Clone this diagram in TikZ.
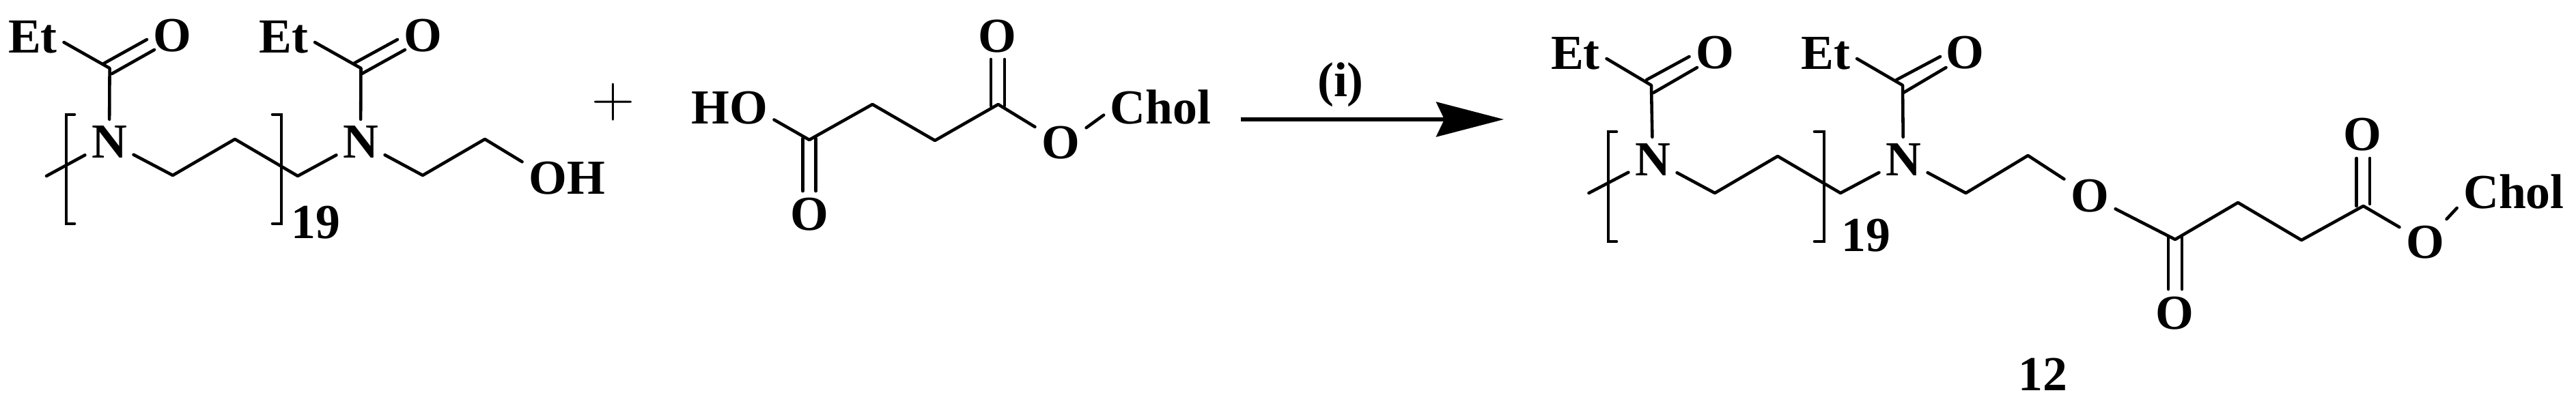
\documentclass[tikz,border=0pt]{standalone}
\usepackage{fontspec}
\setmainfont{Liberation Serif}
\usetikzlibrary{arrows.meta}
\tikzset{
  atom/.style={inner sep=0.09cm, font=\bfseries\fontsize{20.4}{20.4}\selectfont},
  numlabel/.style={inner sep=0pt, font=\bfseries\fontsize{20.4}{20.4}\selectfont},
  bond/.style={line width=1.3pt, line join=round, line cap=round},
  brack/.style={line width=1.3pt, line join=miter, line cap=round},
  reactarrow/.style={line width=1.45pt, -{Stealth[length=0.99cm, width=0.51cm, inset=0.12cm]}}
}
\begin{document}
\begin{tikzpicture}
\useasboundingbox (0,0) rectangle (37.72,6.01);

% Polymer on the left
\node[atom] (etA) at (0.48,5.47) {Et};
\node[atom] (oA) at (2.52,5.49) {O};
\node[atom] (nA) at (1.60,3.93) {N};
\node[atom] (etB) at (4.155,5.47) {Et};
\node[atom] (oB) at (6.19,5.49) {O};
\node[atom] (nB) at (5.28,3.93) {N};
\node[atom] (oh) at (8.30,3.40) {OH};
\node[numlabel] (repA) at (4.62,2.75) {19};
\coordinate (cA) at (1.606,5.01);
\coordinate (cB) at (5.285,5.01);
\coordinate (stubA) at (0.68,3.43);
\coordinate (chA) at (2.53,3.44);
\coordinate (chB) at (3.44,3.97);
\coordinate (chC) at (4.36,3.43);
\coordinate (chD) at (6.19,3.44);
\coordinate (chE) at (7.10,3.97);
\coordinate (dblAa) at (1.52,5.08);
\coordinate (dblAb) at (2.15,5.43);
\coordinate (dblAc) at (1.64,4.93);
\coordinate (dblAd) at (2.26,5.28);
\coordinate (dblBa) at (5.18,5.08);
\coordinate (dblBb) at (5.82,5.43);
\coordinate (dblBc) at (5.30,4.93);
\coordinate (dblBd) at (5.93,5.28);
\draw[bond] (etA.-10) -- (cA) -- (nA);
\draw[bond] (dblAa) -- (dblAb);
\draw[bond] (dblAc) -- (dblAd);
\draw[bond] (etB.-10) -- (cB) -- (nB);
\draw[bond] (dblBa) -- (dblBb);
\draw[bond] (dblBc) -- (dblBd);
\draw[bond] (stubA) -- (nA);
\draw[bond] (nA) -- (chA) -- (chB) -- (chC) -- (nB);
\draw[bond] (nB) -- (chD) -- (chE) -- (oh.160);
\draw[brack] (1.09,4.33) -- (0.97,4.33) -- (0.97,2.73) -- (1.09,2.73);
\draw[brack] (3.99,4.33) -- (4.12,4.33) -- (4.12,2.73) -- (3.99,2.73);

\node[inner sep=0pt, font=\fontsize{31}{31}\selectfont] (plus) at (8.98,4.51) {$+$};

% Acid in the middle
\node[atom] (ho) at (10.68,4.43) {HO};
\node[atom] (oC) at (11.85,2.87) {O};
\node[atom] (oD) at (14.60,5.48) {O};
\node[atom] (oE) at (15.53,3.92) {O};
\node[atom] (cholA) at (16.995,4.44) {Chol};
\coordinate (mA) at (11.85,3.96);
\coordinate (mB) at (12.775,4.48);
\coordinate (mC) at (13.69,3.95);
\coordinate (mD) at (14.616,4.48);
\coordinate (dblCa) at (11.755,3.98);
\coordinate (dblCb) at (11.755,3.21);
\coordinate (dblCc) at (11.946,3.98);
\coordinate (dblCd) at (11.946,3.21);
\coordinate (dblDa) at (14.51,5.14);
\coordinate (dblDb) at (14.51,4.46);
\coordinate (dblDc) at (14.71,5.14);
\coordinate (dblDd) at (14.71,4.46);
\draw[bond] (ho.-15) -- (mA) -- (mB) -- (mC) -- (mD) -- (oE);
\draw[bond] (oE.30) -- (cholA.188);
\draw[bond] (dblCa) -- (dblCb);
\draw[bond] (dblCc) -- (dblCd);
\draw[bond] (dblDa) -- (dblDb);
\draw[bond] (dblDc) -- (dblDd);

% Reaction arrow
\coordinate (arrA) at (18.165,4.26);
\coordinate (arrB) at (22.02,4.26);
\draw[reactarrow] (arrA) -- (arrB);
\node[numlabel] (cond) at (19.63,4.77) {(i)};

% Product on the right
\node[atom] (etC) at (23.07,5.23) {Et};
\node[atom] (oF) at (25.11,5.24) {O};
\node[atom] (nC) at (24.20,3.67) {N};
\node[atom] (etD) at (26.735,5.23) {Et};
\node[atom] (oG) at (28.77,5.24) {O};
\node[atom] (nD) at (27.87,3.67) {N};
\node[atom] (oH) at (30.60,3.14) {O};
\node[atom] (oI) at (31.845,1.42) {O};
\node[atom] (oJ) at (34.595,4.04) {O};
\node[atom] (oK) at (35.51,2.46) {O};
\node[atom] (cholB) at (36.81,3.20) {Chol};
\node[numlabel] (repB) at (27.32,2.56) {19};
\node[numlabel] (cmpd) at (29.915,0.52) {12};
\coordinate (cC) at (24.18,4.76);
\coordinate (cD) at (27.86,4.76);
\coordinate (stubB) at (23.265,3.18);
\coordinate (prA) at (25.11,3.18);
\coordinate (prB) at (26.03,3.72);
\coordinate (prC) at (26.95,3.18);
\coordinate (prD) at (28.785,3.18);
\coordinate (prE) at (29.695,3.73);
\coordinate (prF) at (31.85,2.50);
\coordinate (prG) at (32.77,3.04);
\coordinate (prH) at (33.70,2.49);
\coordinate (prI) at (34.606,2.99);
\coordinate (dblEa) at (24.11,4.84);
\coordinate (dblEb) at (24.735,5.18);
\coordinate (dblEc) at (24.21,4.65);
\coordinate (dblEd) at (24.85,5.02);
\coordinate (dblFa) at (27.77,4.84);
\coordinate (dblFb) at (28.41,5.18);
\coordinate (dblFc) at (27.87,4.65);
\coordinate (dblFd) at (28.495,5.02);
\coordinate (dblGa) at (31.75,2.54);
\coordinate (dblGb) at (31.75,1.77);
\coordinate (dblGc) at (31.95,2.54);
\coordinate (dblGd) at (31.95,1.77);
\coordinate (dblHa) at (34.506,3.69);
\coordinate (dblHb) at (34.506,2.99);
\coordinate (dblHc) at (34.70,3.69);
\coordinate (dblHd) at (34.70,3.02);
\draw[bond] (etC.-10) -- (cC) -- (nC);
\draw[bond] (dblEa) -- (dblEb);
\draw[bond] (dblEc) -- (dblEd);
\draw[bond] (etD.-10) -- (cD) -- (nD);
\draw[bond] (dblFa) -- (dblFb);
\draw[bond] (dblFc) -- (dblFd);
\draw[bond] (stubB) -- (nC);
\draw[bond] (nC) -- (prA) -- (prB) -- (prC) -- (nD);
\draw[bond] (nD) -- (prD) -- (prE) -- (oH);
\draw[bond] (oH) -- (prF) -- (prG) -- (prH) -- (prI) -- (oK);
\draw[bond] (oK.47) -- (cholB.196);
\draw[bond] (dblGa) -- (dblGb);
\draw[bond] (dblGc) -- (dblGd);
\draw[bond] (dblHa) -- (dblHb);
\draw[bond] (dblHc) -- (dblHd);
\draw[brack] (23.67,4.08) -- (23.55,4.08) -- (23.55,2.47) -- (23.67,2.47);
\draw[brack] (26.57,4.08) -- (26.71,4.08) -- (26.71,2.47) -- (26.57,2.47);
\end{tikzpicture}
\end{document}
